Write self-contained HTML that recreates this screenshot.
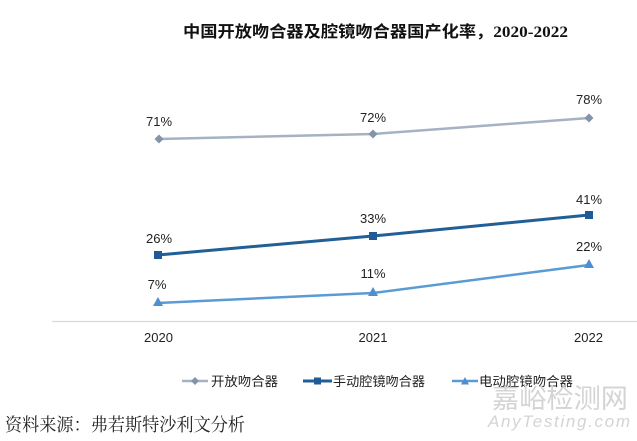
<!DOCTYPE html>
<html>
<head>
<meta charset="utf-8">
<style>
html,body{margin:0;padding:0;background:#fff;}
svg{display:block;}
</style>
</head>
<body>
<svg width="637" height="441" viewBox="0 0 637 441" xmlns="http://www.w3.org/2000/svg">
  <rect width="637" height="441" fill="#fff"/>
  <!-- Title -->
  <text x="183" y="37" font-family="'Liberation Serif','Noto Sans CJK SC',serif" font-weight="bold" font-size="16" fill="#111" textLength="385" lengthAdjust="spacingAndGlyphs">中国开放吻合器及腔镜吻合器国产化率，2020-2022</text>

  <!-- Axis line -->
  <line x1="52" y1="321.5" x2="637" y2="321.5" stroke="#d9d9d9" stroke-width="1.2"/>

  <!-- Series: open -->
  <polyline points="159,139 373,134 589,118" fill="none" stroke="#a5b2c3" stroke-width="2.5"/>
  <g fill="#8393a8">
    <polygon points="159,134.5 163.5,139 159,143.5 154.5,139"/>
    <polygon points="373,129.5 377.5,134 373,138.5 368.5,134"/>
    <polygon points="589,113.5 593.5,118 589,122.5 584.5,118"/>
  </g>

  <!-- Series: manual -->
  <polyline points="158,255 373,236 589,215" fill="none" stroke="#215f97" stroke-width="3"/>
  <g fill="#1f5c96">
    <rect x="154" y="251" width="8" height="8"/>
    <rect x="369" y="232" width="8" height="8"/>
    <rect x="585" y="211" width="8" height="8"/>
  </g>

  <!-- Series: electric -->
  <polyline points="158,303 373,293 589,265" fill="none" stroke="#5b9bd5" stroke-width="2.5"/>
  <g fill="#4f8fd0">
    <polygon points="158,297 163,306 153,306"/>
    <polygon points="373,287 378,296 368,296"/>
    <polygon points="589,259 594,268 584,268"/>
  </g>

  <!-- Data labels -->
  <g font-family="'Liberation Sans',Arial,sans-serif" font-size="13" fill="#222" text-anchor="middle">
    <text x="159" y="126">71%</text>
    <text x="373" y="122">72%</text>
    <text x="589" y="104">78%</text>
    <text x="159" y="243">26%</text>
    <text x="373" y="223">33%</text>
    <text x="589" y="204">41%</text>
    <text x="157" y="289">7%</text>
    <text x="373" y="278">11%</text>
    <text x="589" y="251">22%</text>
    <!-- year labels -->
    <text x="158.5" y="342">2020</text>
    <text x="373" y="342">2021</text>
    <text x="588.5" y="342">2022</text>
  </g>

  <!-- Legend -->
  <line x1="182" y1="381" x2="208" y2="381" stroke="#a5b2c3" stroke-width="2.5"/>
  <polygon points="195,377 199,381 195,385 191,381" fill="#8393a8"/>
  <line x1="303" y1="381" x2="332" y2="381" stroke="#215f97" stroke-width="3"/>
  <rect x="314" y="377.5" width="7" height="7" fill="#1f5c96"/>
  <line x1="452" y1="381" x2="478" y2="381" stroke="#5b9bd5" stroke-width="2.5"/>
  <polygon points="465,377 469,384.5 461,384.5" fill="#4f8fd0"/>
  <g font-family="'Liberation Sans','Noto Sans CJK SC',sans-serif" font-size="13" fill="#222">
    <text x="211" y="386" textLength="67" lengthAdjust="spacingAndGlyphs">开放吻合器</text>
    <text x="333" y="386" textLength="92" lengthAdjust="spacingAndGlyphs">手动腔镜吻合器</text>
    <text x="479" y="386" textLength="94" lengthAdjust="spacingAndGlyphs">电动腔镜吻合器</text>
  </g>

  <!-- Watermark -->
  <text x="492" y="408" font-family="'Noto Sans CJK SC',sans-serif" font-size="27" fill="#d4d4d4" textLength="136" lengthAdjust="spacingAndGlyphs">嘉峪检测网</text>
  <text x="488" y="427" font-family="'Liberation Sans',sans-serif" font-style="italic" font-size="17" fill="#d4d4d4" textLength="142" lengthAdjust="spacing">AnyTesting.com</text>

  <!-- Source -->
  <text x="5" y="431" font-family="'Liberation Serif','Noto Serif CJK SC',serif" font-size="18" fill="#222" textLength="240" lengthAdjust="spacingAndGlyphs">资料来源：弗若斯特沙利文分析</text>
</svg>
</body>
</html>
